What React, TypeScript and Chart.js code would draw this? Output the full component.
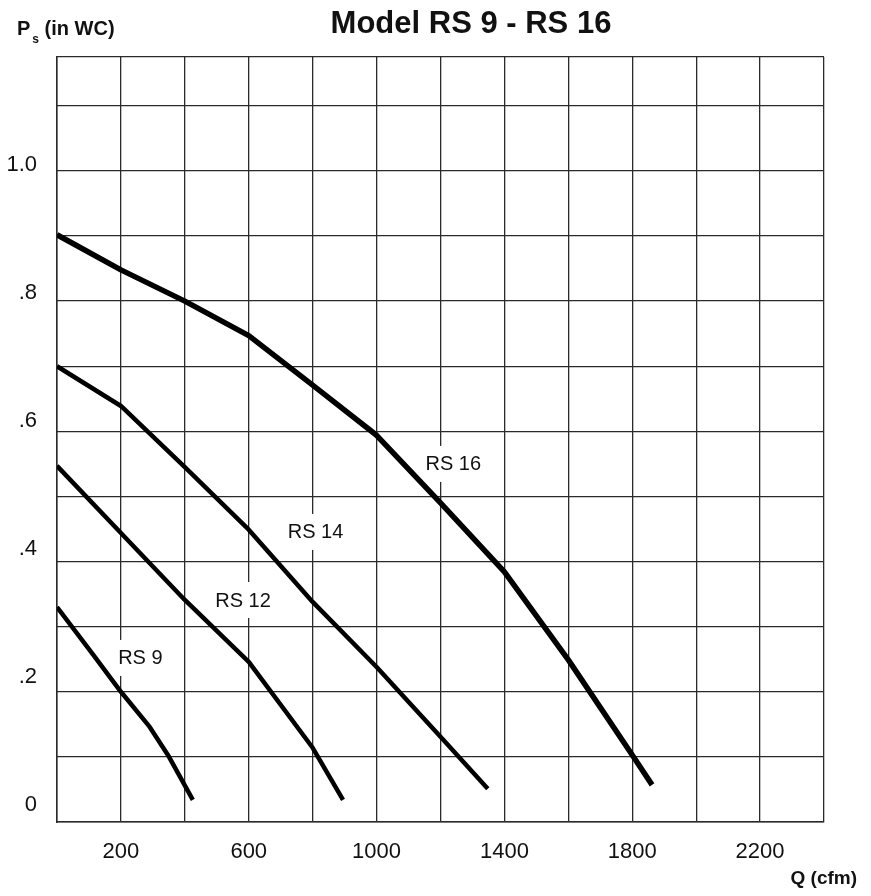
import { useEffect, useRef } from "react";
import { Chart, registerables } from "chart.js";

Chart.register(...registerables);

const FONT = "'Liberation Sans', Arial, Helvetica, sans-serif";

const chartTitle = "Model RS 9 - RS 16";
const yAxisTitleMain = "P";
const yAxisTitleSub = "s";
const yAxisTitleRest = " (in WC)";
const xAxisTitle = "Q (cfm)";

const xTickValues = [200, 600, 1000, 1400, 1800, 2200];
const xTickLabels = ["200", "600", "1000", "1400", "1800", "2200"];
const yTickValues = [0, 0.2, 0.4, 0.6, 0.8, 1.0];
const yTickLabels = ["0", ".2", ".4", ".6", ".8", "1.0"];

const seriesNames = ["RS 9", "RS 12", "RS 14", "RS 16"];

const rs9Q = [0, 113, 200, 290, 347, 425];
const rs9Ps = [0.33, 0.257, 0.2, 0.146, 0.103, 0.034];

const rs12Q = [0, 200, 400, 600, 800, 895];
const rs12Ps = [0.547, 0.444, 0.341, 0.246, 0.114, 0.034];

const rs14Q = [0, 200, 400, 600, 800, 1000, 1200, 1348];
const rs14Ps = [0.7, 0.639, 0.545, 0.449, 0.338, 0.238, 0.131, 0.051];

const rs16Q = [0, 200, 400, 600, 800, 1000, 1200, 1400, 1600, 1800, 1862];
const rs16Ps = [0.902, 0.848, 0.8, 0.747, 0.671, 0.594, 0.49, 0.384, 0.249, 0.103, 0.057];

const curveLabelQ = [261, 582, 809, 1240];
const curveLabelPs = [0.252, 0.341, 0.4455, 0.55];

const seriesQ = [rs9Q, rs12Q, rs14Q, rs16Q];
const seriesPs = [rs9Ps, rs12Ps, rs14Ps, rs16Ps];
const seriesWidth = [4.5, 4.5, 4.5, 5.5];

const annotations = {
  id: "annotations",
  beforeDatasetsDraw(chart: any) {
    const { ctx, scales } = chart;
    const x = scales.x;
    const y = scales.y;
    ctx.save();
    ctx.font = `20px ${FONT}`;
    ctx.textAlign = "center";
    ctx.textBaseline = "middle";
    seriesNames.forEach((name, i) => {
      const px = x.getPixelForValue(curveLabelQ[i]);
      const py = y.getPixelForValue(curveLabelPs[i]);
      const w = ctx.measureText(name).width + 8;
      ctx.fillStyle = "#ffffff";
      ctx.fillRect(px - w / 2, py - 18, w, 36);
      ctx.fillStyle = "#111111";
      ctx.fillText(name, px, py + 1);
    });
    ctx.restore();
  },
  afterDraw(chart: any) {
    const { ctx } = chart;
    ctx.save();
    ctx.fillStyle = "#111111";
    ctx.textBaseline = "alphabetic";
    ctx.font = `bold 31px ${FONT}`;
    ctx.textAlign = "center";
    ctx.fillText(chartTitle, 463, 25);
    ctx.textAlign = "left";
    ctx.font = `bold 20px ${FONT}`;
    ctx.fillText(yAxisTitleMain, 9, 27);
    let cx = 9 + ctx.measureText(yAxisTitleMain).width + 2;
    ctx.font = `bold 12px ${FONT}`;
    ctx.fillText(yAxisTitleSub, cx, 35);
    cx += ctx.measureText(yAxisTitleSub).width;
    ctx.font = `bold 20px ${FONT}`;
    ctx.fillText(yAxisTitleRest, cx, 27);
    ctx.textAlign = "right";
    ctx.font = `bold 19px ${FONT}`;
    ctx.fillText(xAxisTitle, 849, 876);
    ctx.restore();
  },
};

export default function App() {
  const canvasRef = useRef<HTMLCanvasElement | null>(null);

  useEffect(() => {
    const canvas = canvasRef.current;
    if (!canvas) return;
    const datasets = seriesNames.map((name, i) => ({
      label: name,
      data: seriesQ[i].map((q, j) => ({ x: q, y: seriesPs[i][j] })),
      xAxisID: "x",
      yAxisID: "y",
      borderColor: "#000000",
      backgroundColor: "#000000",
      borderWidth: seriesWidth[i],
      pointRadius: 0,
      pointHoverRadius: 0,
      tension: 0,
      fill: false,
      borderCapStyle: "butt" as const,
      borderJoinStyle: "round" as const,
    }));

    const chart = new Chart(canvas, {
      type: "line",
      data: { datasets },
      plugins: [annotations],
      options: {
        responsive: false,
        animation: false,
        devicePixelRatio: 1,
        layout: { padding: { left: 0, right: 39, top: 49, bottom: 0 } },
        plugins: {
          legend: { display: false },
          tooltip: { enabled: false },
          title: { display: false },
        },
        scales: {
          x: {
            type: "linear",
            min: 0,
            max: 2400,
            ticks: {
              stepSize: 200,
              autoSkip: false,
              maxRotation: 0,
              minRotation: 0,
              padding: 17,
              color: "#111111",
              font: { size: 22, family: FONT },
              callback: (v: any) => {
                const i = xTickValues.findIndex((t) => Math.abs(t - Number(v)) < 1e-6);
                return i >= 0 ? xTickLabels[i] : "";
              },
            },
            grid: { color: "#2a2a2a", lineWidth: 1.3, drawTicks: false },
            border: { color: "#2a2a2a", width: 1.5 },
            afterFit: (s: any) => {
              s.height = 66;
            },
          },
          y: {
            type: "linear",
            position: "left",
            weight: 0,
            min: 0,
            max: 1.175,
            ticks: { stepSize: 0.1, autoSkip: false, display: false },
            grid: { color: "#2a2a2a", lineWidth: 1.3, drawTicks: false },
            border: { display: false },
            afterFit: (s: any) => {
              s.width = 0;
            },
          },
          yLabels: {
            type: "linear",
            position: "left",
            weight: 1,
            min: -0.02656,
            max: 1.16875,
            afterBuildTicks: (s: any) => {
              s.ticks = yTickValues.map((v) => ({ value: v }));
            },
            ticks: {
              autoSkip: false,
              padding: 20,
              color: "#111111",
              font: { size: 22, family: FONT },
              callback: (v: any) => {
                const i = yTickValues.findIndex((t) => Math.abs(t - Number(v)) < 1e-6);
                return i >= 0 ? yTickLabels[i] : "";
              },
            },
            grid: { display: false, drawTicks: false },
            border: { color: "#2a2a2a", width: 1.5 },
            afterFit: (s: any) => {
              s.width = 49;
            },
          },
        },
      },
    });
    return () => chart.destroy();
  }, []);

  return (
    <div style={{ width: 855, height: 880 }}>
      <canvas
        ref={canvasRef}
        width={855}
        height={880}
        style={{ width: 855, height: 880, display: "block" }}
      />
    </div>
  );
}
